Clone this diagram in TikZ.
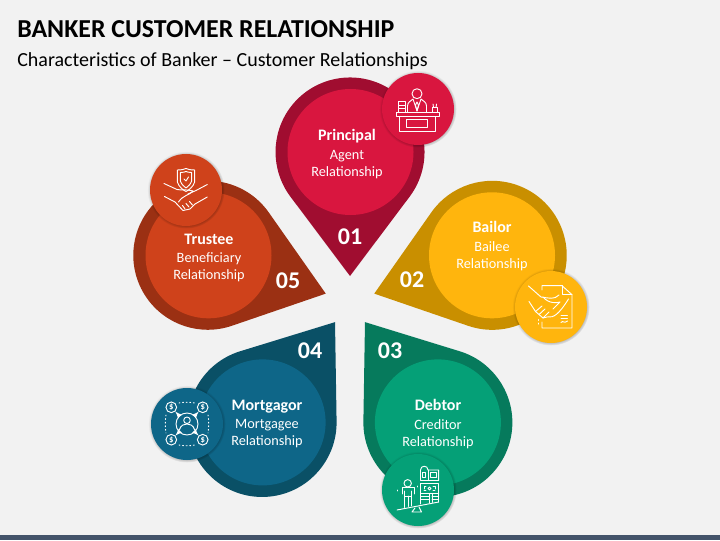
\documentclass[tikz,border=0pt]{standalone}
\usepackage{fontspec}
\setmainfont{Carlito}
\usetikzlibrary{shadows,arrows}
\definecolor{pagebg}{HTML}{F2F2F2}
\definecolor{barcol}{HTML}{44546A}
\definecolor{redin}{HTML}{D9163F}
\definecolor{redout}{HTML}{A00D30}
\definecolor{goldin}{HTML}{FFB50D}
\definecolor{goldout}{HTML}{C98F00}
\definecolor{greenin}{HTML}{05A077}
\definecolor{greenout}{HTML}{067A5C}
\definecolor{bluein}{HTML}{0E6688}
\definecolor{blueout}{HTML}{0A5066}
\definecolor{orangein}{HTML}{CF421B}
\definecolor{orangeout}{HTML}{9B3013}
\tikzset{
  disc/.style={circle, minimum size=94.5pt, inner sep=0pt},
  disctext/.style={align=center, inner sep=0pt, text=white, font=\fontsize{10.7}{12.7}\selectfont},
  badge/.style={circle, minimum size=54pt, inner sep=0pt, circular glow={fill=black, opacity=0.4, shadow scale=1.07}},
  numlabel/.style={text=white, font=\fontsize{18}{20}\selectfont\bfseries},
  icon/.style={draw=white, line width=0.7pt, line cap=round, line join=round},
  dollar/.style={circle, draw=white, line width=0.7pt, minimum size=8pt, inner sep=0pt, text=white, font=\fontsize{6.5}{6.5}\selectfont\bfseries},
}
\begin{document}
\begin{tikzpicture}[x=0.75pt, y=0.75pt, >=latex]
\useasboundingbox (0,0) rectangle (720,540);
\fill [pagebg] (0,0) rectangle (720,540);
\fill [barcol] (0,0) rectangle (720,5);
\node (title) [anchor=west, inner sep=0pt, font=\fontsize{19.4}{22}\selectfont\bfseries] at (17,510.5) {BANKER CUSTOMER RELATIONSHIP};
\node (subtitle) [anchor=west, inner sep=0pt, font=\fontsize{15}{17}\selectfont] at (17,479) {Characteristics of Banker – Customer Relationships};
% the five drops
\fill [redout, shift={(350,238.5)}] (0,25.5) -- (59.6,104.8) arc (-36.9:216.9:74.5) -- cycle;
\fill [goldout, shift={(350,238.5)}, rotate=-72] (0,25.5) -- (59.6,104.8) arc (-36.9:216.9:74.5) -- cycle;
\fill [greenout, shift={(350,238.5)}, rotate=-144] (0,25.5) -- (59.6,104.8) arc (-36.9:216.9:74.5) -- cycle;
\fill [blueout, shift={(350,238.5)}, rotate=144] (0,25.5) -- (59.6,104.8) arc (-36.9:216.9:74.5) -- cycle;
\fill [orangeout, shift={(350,238.5)}, rotate=72] (0,25.5) -- (59.6,104.8) arc (-36.9:216.9:74.5) -- cycle;
% inner discs
\node (disc1) [disc, fill=redin] at (350.5,388) {};
\node (disc2) [disc, fill=goldin] at (492,284.7) {};
\node (disc3) [disc, fill=greenin] at (437.9,117.6) {};
\node (disc4) [disc, fill=bluein] at (262.6,117.6) {};
\node (disc5) [disc, fill=orangein] at (208.5,284.7) {};
\node (principal) [disctext] at (347,386) {\textbf{\fontsize{12}{13}\selectfont Principal}\\[1pt]Agent\\Relationship};
\node (bailor) [disctext] at (492,294) {\textbf{\fontsize{12}{13}\selectfont Bailor}\\[1pt]Bailee\\Relationship};
\node (debtor) [disctext] at (438,116) {\textbf{\fontsize{12}{13}\selectfont Debtor}\\[1pt]Creditor\\Relationship};
\node (mortgagor) [disctext] at (267,116) {\textbf{\fontsize{12}{13}\selectfont Mortgagor}\\[1pt]Mortgagee\\Relationship};
\node (trustee) [disctext] at (209,282) {\textbf{\fontsize{12}{13}\selectfont Trustee}\\[1pt]Beneficiary\\Relationship};
% numbers
\node (num1) [numlabel] at (350,303) {01};
\node (num2) [numlabel] at (412,260) {02};
\node (num3) [numlabel] at (390,189) {03};
\node (num4) [numlabel] at (310,189) {04};
\node (num5) [numlabel] at (288,259) {05};
% badges
\node (badge1) [badge, fill=redin] at (418,431) {};
\node (badge2) [badge, fill=goldin] at (551,233) {};
\node (badge3) [badge, fill=greenin] at (418,50) {};
\node (badge4) [badge, fill=bluein] at (187,116) {};
\node (badge5) [badge, fill=orangein] at (186,350) {};
% banker at desk
\begin{scope}[shift={(418,431)}]
\draw [icon] (-22,-3.3) rectangle (21.3,-7.3);
\draw [icon] (-18.3,-7.3) rectangle (17.3,-22.3);
\draw [icon] (-11.7,-10.7) rectangle (9.7,-18);
\draw [icon] (-1,15.3) circle (5);
\draw [icon] (-10.5,-3.3) -- (-10.5,3) .. controls (-10.5,7) and (-7,8) .. (-5,10) -- (-1,-2) -- (3,10) .. controls (5,8) and (8.5,7) .. (8.5,3) -- (8.5,-3.3);
\draw [icon] (-1,7) -- (-2.5,4) -- (-1,-2) -- (0.5,4) -- cycle;
\draw [icon] (-20,-3.3) rectangle (-13,0.2);
\draw [icon] (-20,0.2) rectangle (-13,3.7);
\draw [icon] (-20,3.7) rectangle (-13,7.2);
\draw [icon] (14.5,-3.3) rectangle (19,1.5);
\draw [icon] (15.5,1.5) -- (15,5);
\draw [icon] (18,1.5) -- (18.5,5);
\end{scope}
% handshake on a document
\begin{scope}[shift={(551,233)}]
\draw [icon] (-9,17) -- (-9,21.3) -- (11,21.3) -- (21,12.3) -- (21,-21) -- (-9,-21) -- (-9,-15);
\draw [icon] (11,21.3) -- (11,12.3) -- (21,12.3);
\draw [icon] (-22.5,21) -- (-10,10) .. controls (-2,9) and (3,7) .. (8,12);
\draw [icon] (-8,10) .. controls (-2,3) and (6,4) .. (9,5) -- (2,-2);
\draw [icon] (-22,5.5) -- (-15.5,-4.5) -- (-8,-11) -- (-4,-10) .. controls (3,-11) and (8,-7) .. (17.5,8);
\draw [icon] (-15.5,-4.5) -- (-9,1);
\draw [icon] (-12,-7.5) -- (-6,-2);
\draw [icon] (-8,-11) -- (-2,-5);
\draw [icon] (10,-8.5) -- (16.5,-8.5);
\draw [icon] (10,-11.5) -- (16.5,-11.5);
\draw [icon] (10,-15.5) .. controls (12,-13) and (13,-17) .. (16.5,-14);
\draw [icon, dotted] (-12.5,-12.5) -- (-12.5,-19.5);
\end{scope}
% person and building on a balance
\begin{scope}[shift={(418,50)}]
\draw [icon] (-21,-20) -- (20.7,-12);
\draw [icon] (-3,-18) -- (-6,-22) -- (3.5,-22) -- (1,-17);
\draw [icon] (-10.3,6.7) circle (3.7);
\draw [icon] (-16,-4) -- (-16,2.5) -- (-4,2.5) -- (-4,-4);
\draw [icon] (-13.5,-1) -- (-13.5,-17.5);
\draw [icon] (-6.5,-1) -- (-6.5,-16);
\draw [icon] (-10,-6) -- (-10,-16.5);
\draw [icon] (-13.5,-6) -- (-6.5,-6);
\draw [icon, dotted] (-20.5,-1) -- (-20.5,2);
\draw [icon, dotted] (-1,3) -- (-1,5);
\draw [icon] (2.5,9.5) -- (2.5,20) .. controls (2.5,25) and (10,25) .. (10,20) -- (20.7,20) -- (20.7,9.5) -- cycle;
\draw [icon] (10,20) -- (10,9.5);
\draw [icon] (12.5,13) rectangle (18,17.5);
\draw [icon] (4.5,13) rectangle (7.5,18);
\draw [icon] (2.5,-14) -- (2.5,7) -- (20.7,7) -- (20.7,-12);
\draw [icon] (2.5,-3.5) -- (20.7,-3.5);
\draw [icon] (11,-3.5) -- (11,-13);
\draw [icon] (14,-3.5) -- (14,-12.5);
\draw [icon] (2.5,-6.5) -- (11,-6.5);
\draw [icon] (2.5,-9.5) -- (11,-9.5);
\draw [icon] (14,-6.5) -- (20.7,-6.5);
\draw [icon] (14,-9.5) -- (20.7,-9.5);
\draw [icon] (11.5,1.5) circle (1.5);
\draw [icon] (6,1) -- (6,4) -- (8,4);
\draw [icon] (15,4) -- (17,4) -- (17,1);
\draw [icon] (6,-0.5) -- (8,-0.5);
\draw [icon] (15,-0.5) -- (17,-0.5);
\end{scope}
% customer and four dollars
\begin{scope}[shift={(187,116)}]
\node (center) [circle, draw=white, line width=0.7pt, minimum size=16.5pt, inner sep=0pt] at (0,0) {};
\node (dollar1) [dollar] at (-15.7,16.7) {\$};
\node (dollar2) [dollar] at (15.7,16.7) {\$};
\node (dollar3) [dollar] at (-15.7,-15.7) {\$};
\node (dollar4) [dollar] at (15.7,-15.7) {\$};
\draw [icon, <-] (dollar1) -- (center);
\draw [icon, <-] (dollar2) -- (center);
\draw [icon, <-] (dollar3) -- (center);
\draw [icon, <-] (dollar4) -- (center);
\draw [icon] (0,3.7) circle (3.3);
\draw [icon] (-7.5,-5.5) .. controls (-6,-1) and (-3,0) .. (0,0) .. controls (3,0) and (6,-1) .. (7.5,-5.5);
\draw [icon, dotted] (-8,21) .. controls (-3,22) and (3,22) .. (8,21);
\draw [icon, dotted] (-8,-21) .. controls (-3,-22) and (3,-22) .. (8,-21);
\draw [icon, dotted] (-21,9) .. controls (-22,3) and (-22,-3) .. (-21,-9);
\draw [icon, dotted] (21,9) .. controls (22,3) and (22,-3) .. (21,-9);
\end{scope}
% shield and handshake
\begin{scope}[shift={(186,350)}]
\draw [icon] (-8.7,20) .. controls (-3,20) and (-2,21) .. (0,21.5) .. controls (2,21) and (3,20) .. (8.7,20) -- (8.7,8) .. controls (7,3) and (3,0) .. (0,-1.5) .. controls (-3,0) and (-7,3) .. (-8.7,8) -- cycle;
\draw [icon] (-5.7,17.5) .. controls (-3,17.5) and (-1,18) .. (0,18.5) .. controls (1,18) and (3,17.5) .. (5.7,17.5) -- (5.7,9) .. controls (4,5) and (2,3.5) .. (0,2) .. controls (-2,3.5) and (-4,5) .. (-5.7,9) -- cycle;
\draw [icon] (-2,11) -- (0,9) -- (2.5,13);
\draw [icon] (-22,6.5) -- (-9,0.5) .. controls (-4,-0.5) and (0,1) .. (7,-1);
\draw [icon] (21.3,5.5) -- (10,-0.5) -- (2,-4);
\draw [icon] (7,-1) .. controls (4,-5) and (-3,-5) .. (-7.5,-12);
\draw [icon] (-21.5,-6.5) -- (-11,-12) -- (-3,-20.5) -- (4,-19) -- (9,-14) -- (21.3,-7);
\draw [icon] (-3.5,-15.5) -- (-1,-19);
\draw [icon] (0,-13.5) -- (3,-17);
\draw [icon] (3.5,-11.5) -- (6.5,-15);
\end{scope}
\end{tikzpicture}
\end{document}
